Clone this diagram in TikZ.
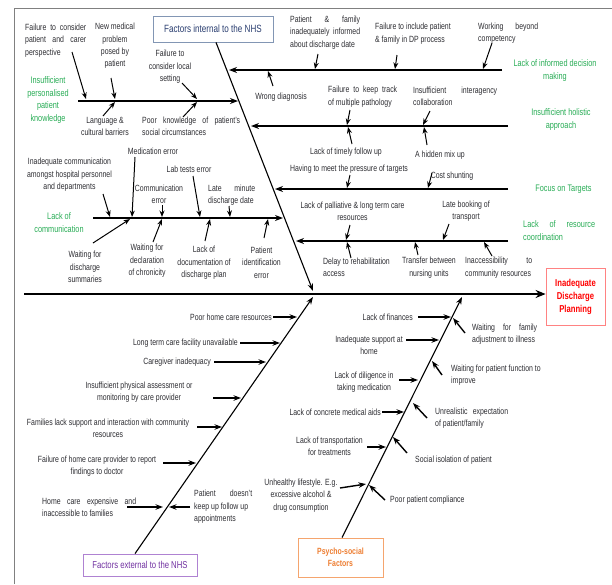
\documentclass[tikz,border=0pt]{standalone}
\usepackage{fontspec}
\setmainfont{Liberation Sans}[FakeStretch=0.77]
\usetikzlibrary{arrows.meta,calc}
\definecolor{tcol}{RGB}{45,45,50}
\definecolor{gcol}{RGB}{40,172,85}
\definecolor{navy}{RGB}{40,60,110}
\definecolor{nborder}{RGB}{130,150,180}
\definecolor{purp}{RGB}{112,48,160}
\definecolor{pborder}{RGB}{175,130,210}
\definecolor{orng}{RGB}{237,125,49}
\definecolor{oborder}{RGB}{245,165,110}
\definecolor{redc}{RGB}{255,0,0}
\definecolor{rborder}{RGB}{255,130,130}
\definecolor{framec}{RGB}{128,128,128}
\newcommand\fs{\fontsize{9}{12.4}\selectfont}
\newcommand\gfs{\fontsize{9.5}{12.4}\selectfont}
\newcommand\jw[2]{\hbox to #1{#2}}
\newcommand\conn[4]{\coordinate (#1s) at (#2); \coordinate (#1e) at (#3); \draw[#4] (#1s) -- (#1e);}
\tikzset{
  txt/.style={inner sep=0pt, font=\fs, text=tcol, align=center},
  ltxt/.style={inner sep=0pt, font=\fs, text=tcol, align=left, anchor=west},
  grn/.style={inner sep=0pt, font=\gfs, text=gcol, align=center},
  lgrn/.style={inner sep=0pt, font=\gfs, text=gcol, align=left, anchor=west},
  spine/.style={line width=2.2pt, -{Stealth[length=10pt,width=8pt]}},
  bone/.style={line width=1.7pt, -{Stealth[length=8pt,width=6pt]}},
  sub/.style={line width=1pt, -{Stealth[length=6.5pt,width=5pt]}},
  lsub/.style={line width=1.4pt, -{Stealth[length=7.5pt,width=5.5pt]}},
  diag/.style={line width=1.1pt, -{Stealth[length=7.5pt,width=5.5pt]}},
}
\begin{document}
\begin{tikzpicture}[x=1pt,y=-1pt]
\useasboundingbox (0,0) rectangle (612,584);
\draw[framec, line width=0.8pt] (14,584) -- (14,8) -- (612,8);

% category boxes
\node[draw=nborder, line width=0.8pt, minimum width=120pt, minimum height=26pt, inner sep=0pt,
      text=navy, font=\fontsize{10.5}{12}\selectfont] (intbox) at (213,29) {Factors internal to the NHS};
\node[draw=pborder, line width=0.8pt, minimum width=114pt, minimum height=22pt, inner sep=0pt,
      text=purp, font=\fontsize{10}{12}\selectfont] (extbox) at (140,565) {Factors external to the NHS};
\node[draw=oborder, line width=0.8pt, minimum width=85pt, minimum height=39pt, inner sep=0pt,
      text=orng, font=\fontsize{9}{12}\selectfont\bfseries, align=center] (psybox) at (340.5,557.5) {Psycho-social\\Factors};
\node[draw=rborder, line width=0.8pt, minimum width=59pt, minimum height=57pt, inner sep=0pt,
      text=redc, font=\fontsize{10}{13}\selectfont\bfseries, align=center] (effect) at (575.5,296.5) {Inadequate\\Discharge\\Planning};

% spine and diagonals
\coordinate (sp0) at (24,294);
\draw[spine] (sp0) -- (sp0 -| effect.west);
\coordinate (ju) at (313,291);
\coordinate (jl) at (313,297);
\coordinate (jr) at (462,297);
\draw[diag] ($(intbox.south)+(3,0)$) -- (ju);
\draw[diag] ($(extbox.north)+(-5,0)$) -- (jl);
\draw[diag] ($(psybox.north)+(1.5,0)$) -- (jr);

% main bones (upper)
\conn{b1}{502,70}{229,70}{bone}
\conn{b2}{508,126}{251,126}{bone}
\conn{b3}{508,189}{275,189}{bone}
\conn{b4}{508,241}{296,241}{bone}
\conn{b5}{78,101}{238,101}{bone}
\conn{b6}{93,218}{283,218}{bone}

% green category labels
\node[grn] (g1) at (48,100) {Insufficient\\personalised\\patient\\knowledge};
\node[grn] (g2) at (59,222.5) {Lack of\\communication};
\node[grn] (g3) at (555,70.5) {Lack of informed decision\\making};
\node[grn] (g4) at (561,119.5) {Insufficient holistic\\approach};
\node[grn] (g5) at (563.5,189) {Focus on Targets};
\node[lgrn] (g6) at (523,230.5) {\jw{72pt}{Lack\hfill of\hfill resource}\\coordination};

% upper-left causes
\node[ltxt] (t1) at (25,40.5) {\jw{61pt}{Failure\hfill to\hfill consider}\\\jw{61pt}{patient\hfill and\hfill carer}\\perspective};
\node[txt] (t2) at (115,46) {New medical\\problem\\posed by\\patient};
\node[txt] (t3) at (105,126.5) {Language \&\\cultural barriers};
\node[txt] (t4) at (170,67) {Failure to\\consider local\\setting};
\node[ltxt] (t5) at (142,126.5) {\jw{98pt}{Poor\hfill knowledge\hfill of\hfill patient's}\\social circumstances};
\conn{a1}{72,52}{86,99}{sub}
\conn{a2}{111,78}{115,99}{sub}
\conn{a3}{103,116}{115,102}{sub}
\conn{a4}{182,83}{197,99}{sub}
\conn{a5}{183,117}{197,102}{sub}

% informed decision making
\node[txt] (t6) at (281,97) {Wrong diagnosis};
\node[ltxt] (t7) at (290,32.5) {\jw{70pt}{Patient\hfill\&\hfill family}\\\jw{70pt}{inadequately\hfill informed}\\about discharge date};
\node[ltxt] (t8) at (375,33.5) {Failure to include patient\\\& family in DP process};
\node[ltxt] (t9) at (478,33) {\jw{60pt}{Working\hfill beyond}\\competency};
\conn{a6}{273,86}{268,71}{sub}
\conn{a7}{318,54}{315,69}{sub}
\conn{a8}{397,55}{395,69}{sub}
\conn{a9}{492,43}{483,69}{sub}

% holistic approach
\node[ltxt] (t10) at (328,96.5) {\jw{69pt}{Failure\hfill to\hfill keep\hfill track}\\of multiple pathology};
\node[txt] (t11) at (346,152) {Lack of timely follow up};
\node[ltxt] (t12) at (413,96.5) {\jw{84pt}{Insufficient\hfill interagency}\\collaboration};
\node[txt] (t13) at (440,155) {A hidden mix up};
\conn{a10}{350,110}{347,125}{sub}
\conn{a11}{352,144}{348,127}{sub}
\conn{a12}{430,111}{423,125}{sub}
\conn{a13}{427,145}{424,127}{sub}

% focus on targets
\node[txt] (t14) at (349,169) {Having to meet the pressure of targets};
\node[txt] (t15) at (452,176) {Cost shunting};
\conn{a14}{350,175}{347,188}{sub}
\conn{a15}{432,173}{428,188}{sub}

% resource coordination
\node[txt] (t16) at (352.5,211) {Lack of palliative \& long term care\\resources};
\node[ltxt] (t17) at (323,267.5) {Delay to rehabilitation\\access};
\node[txt] (t18) at (466,211) {Late booking of\\transport};
\node[txt] (t19) at (429,267.5) {Transfer between\\nursing units};
\node[ltxt] (t20) at (465,267.5) {\jw{67pt}{Inaccessibility\hfill to}\\community resources};
\conn{a16}{350,225}{346,240}{sub}
\conn{a17}{351,258}{347,242}{sub}
\conn{a18}{449,224}{443,240}{sub}
\conn{a19}{418,255}{415,242}{sub}
\conn{a20}{492,256}{484,242}{sub}

% lack of communication
\node[txt] (t21) at (69.5,175) {Inadequate communication\\amongst hospital personnel\\and departments};
\node[txt] (t22) at (153,151) {Medication error};
\node[txt] (t23) at (159,194) {Communication\\error};
\node[txt] (t24) at (189,169) {Lab tests error};
\node[txt] (t25) at (85,267) {Waiting for\\discharge\\summaries};
\node[txt] (t26) at (147,261) {Waiting for\\declaration\\of chronicity};
\node[txt] (t27) at (204,263) {Lack of\\documentation of\\discharge plan};
\node[ltxt] (t28) at (208,195) {\jw{47pt}{Late\hfill minute}\\discharge date};
\node[txt] (t29) at (261.5,262.5) {Patient\\identification\\error};
\conn{a21}{103,194}{110,217}{sub}
\conn{a22}{135,157}{132,217}{sub}
\conn{a23}{93,243}{130,219}{sub}
\conn{a24}{162,205}{162,217}{sub}
\conn{a25}{153,242}{162,219}{sub}
\conn{a26}{193,176}{200,217}{sub}
\conn{a27}{205,241}{210,219}{sub}
\conn{a28}{229,206}{230,217}{sub}
\conn{a29}{264,238}{268,219}{sub}

% external factors
\node[txt, anchor=east] (l1) at (272,317) {Poor home care resources};
\node[txt, anchor=east] (l2) at (238,343) {Long term care facility unavailable};
\node[txt, anchor=east] (l3) at (211,362) {Caregiver inadequacy};
\node[txt] (l4) at (139,392) {Insufficient physical assessment or\\monitoring by care provider};
\node[txt] (l5) at (108,428.5) {Families lack support and interaction with community\\resources};
\node[txt] (l6) at (97,466) {Failure of home care provider to report\\findings to doctor};
\node[ltxt] (l7) at (42,507) {\jw{94pt}{Home\hfill care\hfill expensive\hfill and}\\inaccessible to families};
\node[ltxt] (l8) at (194,507) {\jw{58pt}{Patient\hfill doesn't}\\keep up follow up\\appointments};
\conn{c1}{273,317}{297,317}{lsub}
\conn{c2}{240,343}{280,343}{lsub}
\conn{c3}{214,362}{266,362}{lsub}
\conn{c4}{213,398}{241,398}{lsub}
\conn{c5}{197,427}{222,427}{lsub}
\conn{c6}{163,463}{196,463}{lsub}
\conn{c7}{127,507}{163,507}{lsub}
\conn{c8}{190,507}{169,507}{lsub}

% psycho-social factors
\node[txt, anchor=east] (r1) at (413,317) {Lack of finances};
\node[txt] (r2) at (369,345) {Inadequate support at\\home};
\node[txt] (r3) at (364,382) {Lack of diligence in\\taking medication};
\node[txt, anchor=east] (r4) at (381,412) {Lack of concrete medical aids};
\node[txt] (r5) at (329.5,446) {Lack of transportation\\for treatments};
\node[txt] (r6) at (301,495.5) {Unhealthy lifestyle. E.g.\\excessive alcohol \&\\drug consumption};
\node[ltxt] (r7) at (472,334) {\jw{65pt}{Waiting\hfill for\hfill family}\\adjustment to illness};
\node[ltxt] (r8) at (451,375) {Waiting for patient function to\\improve};
\node[ltxt] (r9) at (435,418) {\jw{73pt}{Unrealistic\hfill expectation}\\of patient/family};
\node[txt, anchor=west] (r10) at (415,460) {Social isolation of patient};
\node[txt, anchor=west] (r11) at (390,500) {Poor patient compliance};
\conn{d1}{418,317}{451,317}{lsub}
\conn{d2}{406,340}{439,340}{lsub}
\conn{d3}{399,380}{418,380}{lsub}
\conn{d4}{382,412}{404,412}{lsub}
\conn{d5}{367,447}{386,447}{lsub}
\conn{d6}{340,488}{366,484}{lsub}
\conn{d7}{465,333}{453,318}{lsub}
\conn{d8}{442,375}{432,361}{lsub}
\conn{d9}{427,418}{413,403}{lsub}
\conn{d10}{407,453}{393,437}{lsub}
\conn{d11}{385,500}{369,485}{lsub}
\end{tikzpicture}
\end{document}
